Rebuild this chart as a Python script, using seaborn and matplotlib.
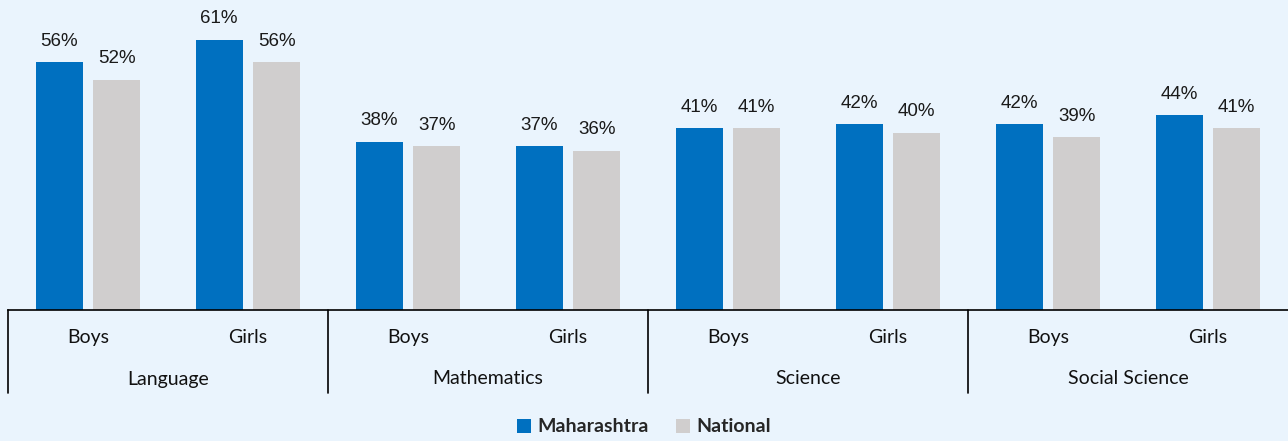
import matplotlib
matplotlib.use("Agg")
import matplotlib.pyplot as plt
import matplotlib.transforms as mtransforms
import seaborn as sns
import pandas as pd

subjects = ["Language", "Mathematics", "Science", "Social Science"]
genders = ["Boys", "Girls"]
series = ["Maharashtra", "National"]
maharashtra = [56, 61, 38, 37, 41, 42, 42, 44]
national = [52, 56, 37, 36, 41, 40, 39, 41]
colors = {"Maharashtra": "#0070C0", "National": "#D0CECE"}
bg = "#EAF4FD"

rows = []
keys = []
i = 0
for s in subjects:
    for g in genders:
        key = f"{s}|{g}"
        keys.append(key)
        rows.append({"key": key, "series": "Maharashtra", "value": maharashtra[i]})
        rows.append({"key": key, "series": "National", "value": national[i]})
        i += 1
df = pd.DataFrame(rows)

sns.set_theme(style="white")
plt.rcParams["font.family"] = ["Lato", "DejaVu Sans"]

fig = plt.figure(figsize=(12.88, 4.41), dpi=100, facecolor=bg)
ax = fig.add_axes([8 / 1288, 1 - 310 / 441, 1 - 8 / 1288, 310 / 441])
ax.set_facecolor(bg)

sns.barplot(data=df, x="key", y="value", hue="series", order=keys,
            hue_order=series, palette=colors, width=0.72, gap=0.18,
            saturation=1, linewidth=0, ax=ax, legend=True)

for c in ax.containers:
    ax.bar_label(c, labels=[f"{v:.0f}%" for v in c.datavalues], padding=9,
                 fontsize=13.5, family="Liberation Sans", color="#1a1a1a")

ax.set_ylim(0, 70)
ax.set_xlim(-0.5, len(keys) - 0.5)
ax.set_yticks([])
ax.set_xlabel("")
ax.set_ylabel("")
for sp in ["top", "right", "left"]:
    ax.spines[sp].set_visible(False)
ax.spines["bottom"].set_color("black")
ax.spines["bottom"].set_linewidth(1.2)

ax.set_xticks(range(len(keys)))
ax.set_xticklabels([k.split("|")[1] for k in keys], fontsize=14, color="#111111")
ax.tick_params(axis="x", length=0, pad=14)

trans = mtransforms.blended_transform_factory(ax.transData, ax.transAxes)
for b in [-0.5, 1.5, 3.5, 5.5]:
    ax.plot([b, b], [0, -83 / 310], transform=trans, color="black",
            lw=1.2, clip_on=False)
for j, s in enumerate(subjects):
    ax.text(2 * j + 0.5, -69 / 310, s, transform=trans, ha="center",
            va="center", fontsize=14, color="#111111")

handles, labels = ax.get_legend_handles_labels()
ax.get_legend().remove()
fig.legend(handles, labels, loc="center", bbox_to_anchor=(0.5, 14 / 441),
           ncol=2, frameon=False, handlelength=0.7, handleheight=0.7,
           handletextpad=0.35, columnspacing=1.4,
           prop={"weight": "bold", "size": 14})

fig.savefig("out.png", dpi=100, facecolor=bg)
